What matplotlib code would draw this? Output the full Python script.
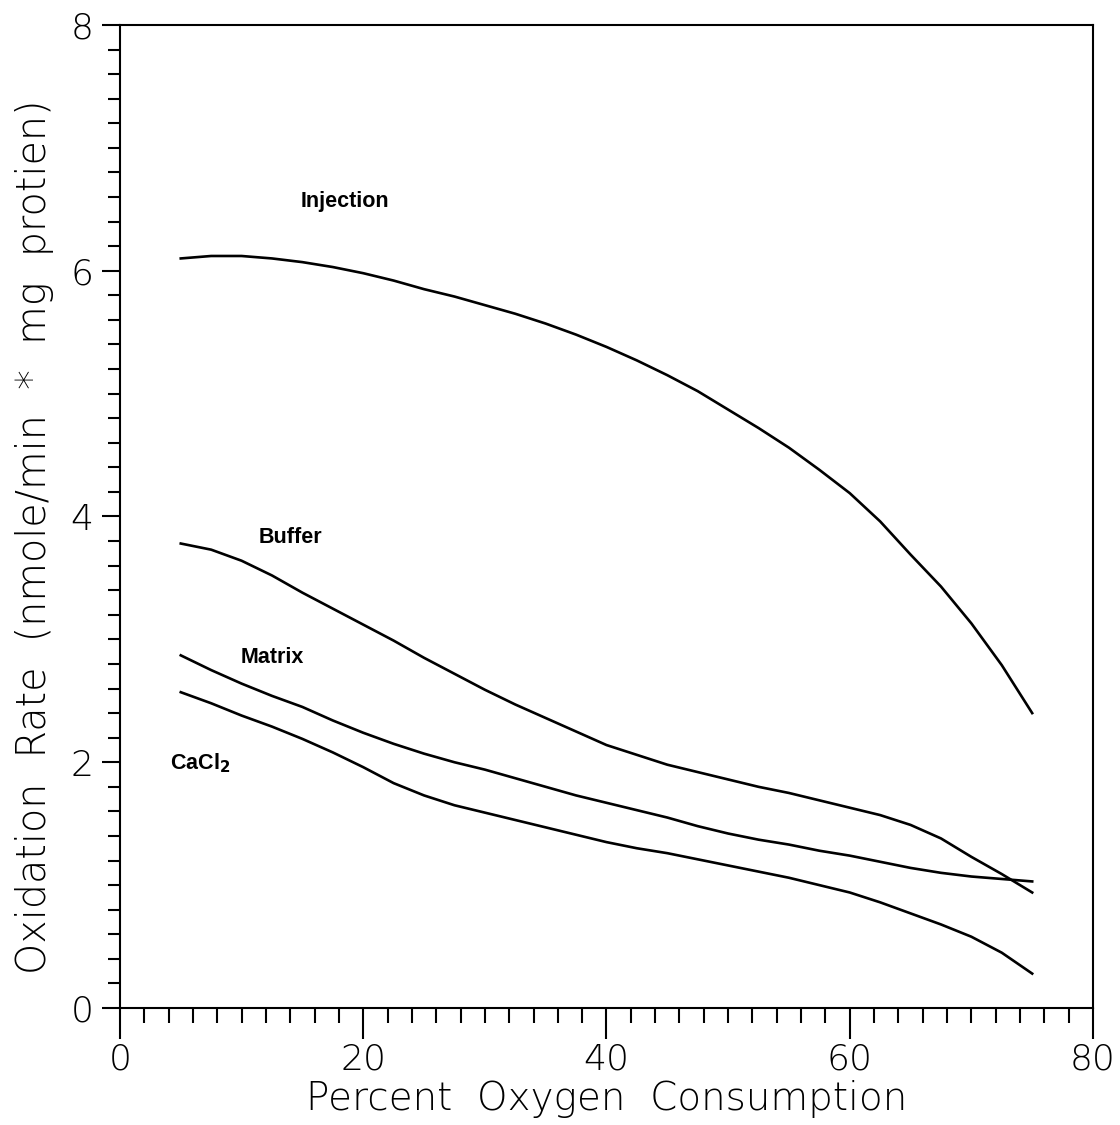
import matplotlib.pyplot as plt
import numpy as np
from matplotlib.ticker import MultipleLocator

# Percent oxygen consumption sampled along each curve
PCT = [5, 7.5, 10, 12.5, 15, 17.5, 20, 22.5, 25, 27.5, 30, 32.5, 35, 37.5, 40,
       42.5, 45, 47.5, 50, 52.5, 55, 57.5, 60, 62.5, 65, 67.5, 70, 72.5, 75]

# Oxidation rate (nmole/min * mg protien)
INJECTION = [6.10, 6.12, 6.12, 6.10, 6.07, 6.03, 5.98, 5.92, 5.85, 5.79, 5.72, 5.65, 5.57, 5.48, 5.38,
             5.27, 5.15, 5.02, 4.87, 4.72, 4.56, 4.38, 4.19, 3.96, 3.69, 3.43, 3.13, 2.79, 2.40]
BUFFER = [3.78, 3.73, 3.64, 3.52, 3.38, 3.25, 3.12, 2.99, 2.85, 2.72, 2.59, 2.47, 2.36, 2.25, 2.14,
          2.06, 1.98, 1.92, 1.86, 1.80, 1.75, 1.69, 1.63, 1.57, 1.49, 1.38, 1.23, 1.09, 0.94]
MATRIX = [2.87, 2.75, 2.64, 2.54, 2.45, 2.34, 2.24, 2.15, 2.07, 2.00, 1.94, 1.87, 1.80, 1.73, 1.67,
          1.61, 1.55, 1.48, 1.42, 1.37, 1.33, 1.28, 1.24, 1.19, 1.14, 1.10, 1.07, 1.05, 1.03]
CACL2 = [2.57, 2.48, 2.38, 2.29, 2.19, 2.08, 1.96, 1.83, 1.73, 1.65, 1.59, 1.53, 1.47, 1.41, 1.35,
         1.30, 1.26, 1.21, 1.16, 1.11, 1.06, 1.00, 0.94, 0.86, 0.77, 0.68, 0.58, 0.45, 0.28]

LABELS = ['Injection', 'Buffer', 'Matrix', r'CaCl$_\mathbf{2}$']
LABEL_POS = [(18.5, 6.56), (14.0, 3.83), (12.5, 2.85), (6.6, 1.99)]

X_LABEL = 'Percent  Oxygen  Consumption'
Y_LABEL = 'Oxidation  Rate  (nmole/min  *  mg  protien)'

if __name__ == '__main__':
    plt.rcParams['font.family'] = ['DejaVu Sans']

    fig = plt.figure(figsize=(11.2, 11.25), dpi=100)
    ax = fig.add_axes([0.1071, 0.104, 0.8688, 0.8738])

    x = np.array(PCT)
    for ys in (INJECTION, BUFFER, MATRIX, CACL2):
        ax.plot(x, ys, color='black', linewidth=1.9, solid_joinstyle='round')

    for lab, (lx, ly) in zip(LABELS, LABEL_POS):
        ax.text(lx, ly, lab, ha='center', va='center', fontsize=15.5,
                fontweight='bold', family='Liberation Sans')

    ax.set_xlim(0, 80)
    ax.set_ylim(0, 8)
    ax.xaxis.set_major_locator(MultipleLocator(20))
    ax.xaxis.set_minor_locator(MultipleLocator(2))
    ax.yaxis.set_major_locator(MultipleLocator(2))
    ax.yaxis.set_minor_locator(MultipleLocator(0.2))

    for sp in ax.spines.values():
        sp.set_linewidth(1.5)

    ax.tick_params(axis='both', which='both', direction='out', width=1.5,
                   top=False, right=False)
    ax.tick_params(axis='x', which='major', length=22, pad=3, labelsize=26)
    ax.tick_params(axis='x', which='minor', length=11)
    ax.tick_params(axis='y', which='major', length=13, pad=6, labelsize=26)
    ax.tick_params(axis='y', which='minor', length=9)
    for t in ax.get_xticklabels() + ax.get_yticklabels():
        t.set_fontweight('light')

    ax.set_xlabel(X_LABEL, fontsize=28, fontweight='light', labelpad=2)
    ax.set_ylabel(Y_LABEL, fontsize=28.5, fontweight='light')
    ax.yaxis.set_label_coords(-0.068, 0.479)

    fig.savefig('out.png', dpi=100)
